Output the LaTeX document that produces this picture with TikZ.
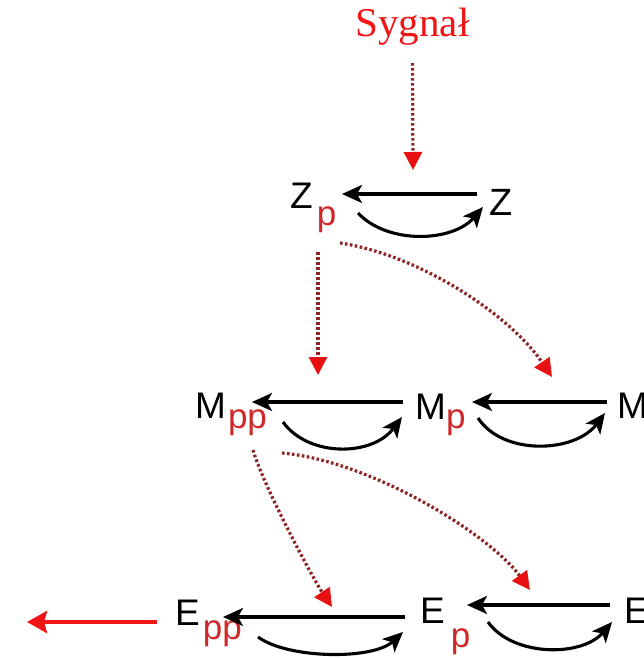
\documentclass[tikz,border=0pt]{standalone}
\usepackage{fontspec}
\setmainfont{Liberation Sans}
\newfontfamily\sygfont{Liberation Serif}
\usetikzlibrary{arrows.meta,calc}
\definecolor{sigred}{HTML}{F01414}
\definecolor{subred}{HTML}{D02828}
\definecolor{dotred}{HTML}{8E2424}
\definecolor{tipred}{HTML}{E81010}
\newcommand{\spec}[4]{#1\kern#4pt\raisebox{-#3pt}{\fontsize{35}{35}\selectfont\color{subred}#2}}

\begin{document}
\begin{tikzpicture}[x=1pt, y=-1pt,
    sp/.style={anchor=base west, inner sep=0pt, font=\fontsize{37}{37}\selectfont},
    conv/.style={line width=3.1pt, -{Stealth[length=20pt,width=18pt,inset=5pt]}},
    sig/.style={dotred, line width=3.2pt, dash pattern=on 2.6pt off 2.4pt, -{Triangle[length=18pt,width=18pt,color=tipred]}},
    outarrow/.style={sigred, line width=4.5pt, -{Stealth[length=20pt,width=22pt,inset=3pt]}}
]
\clip (0,0) rectangle (644,658);
\node[font=\sygfont\fontsize{41}{41}\selectfont, text=sigred, anchor=base, inner sep=0pt] (sygnal) at (412.5,37) {Sygnał};
\node[sp] (zp) at (290,208) {\spec{Z}{p}{17.6}{4}};
\node[sp, font=\fontsize{38}{38}\selectfont] (z) at (489,215) {Z};
\node[sp] (mpp) at (195,418) {\spec{M}{pp}{10.6}{2}};
\node[sp] (mp) at (415,419) {\spec{M}{p}{9.6}{0}};
\node[sp] (m) at (617,418) {M};
\node[sp] (epp) at (175,625) {\spec{E}{pp}{14.6}{3}};
\node[sp] (ep) at (420,623) {\spec{E}{p}{24.6}{6}};
\node[sp] (e) at (624,623) {E};
\coordinate (tz) at (413,170);
\coordinate (tmpp) at (318,375);
\coordinate (tmp) at (552,377);
\coordinate (tepp) at (332,607);
\coordinate (tep) at (530,590);
\coordinate (out) at (27,622);

\draw[conv] ([shift={(-12,-21)}]z.base west) -- ([shift={(52,-14)}]zp.base west);
\draw[conv] ([shift={(68,5)}]zp.base west) .. controls +(30,32) and +(-30,35) .. ([shift={(-6,-8)}]z.base west);
\draw[conv] ([shift={(-12,-17)}]mp.base west) -- ([shift={(57,-16)}]mpp.base west);
\draw[conv] ([shift={(88,4)}]mpp.base west) .. controls +(25,35) and +(-30,40) .. ([shift={(-13,-2)}]mp.base west);
\draw[conv] ([shift={(-10,-16)}]m.base west) -- ([shift={(57,-17)}]mp.base west);
\draw[conv] ([shift={(63,-1)}]mp.base west) .. controls +(25,38) and +(-30,40) .. ([shift={(-12,-5)}]m.base west);
\draw[conv] ([shift={(-15,-6)}]ep.base west) -- ([shift={(48,-8)}]epp.base west);
\draw[conv] ([shift={(83,12)}]epp.base west) .. controls +(30,22) and +(-30,28) .. ([shift={(-17,9)}]ep.base west);
\draw[conv] ([shift={(-14,-18)}]e.base west) -- ([shift={(47,-18)}]ep.base west);
\draw[conv] ([shift={(68,-1)}]ep.base west) .. controls +(25,35) and +(-30,35) .. ([shift={(-12,-1)}]e.base west);
\draw[outarrow] ([shift={(-18,-3)}]epp.base west) -- (out);

\draw[sig] ([shift={(0,17)}]sygnal.south) -- (tz);
\draw[sig] ([shift={(28,44)}]zp.base west) -- (tmpp);
\draw[sig] ([shift={(50,35)}]zp.base west) .. controls +(80,12) and +(-42,-62) .. (tmp);
\draw[sig] ([shift={(58,32)}]mpp.base west) .. controls +(10,35) and +(-20,-30) .. (tepp);
\draw[sig] ([shift={(87,35)}]mpp.base west) .. controls +(90,8) and +(-40,-55) .. (tep);
\end{tikzpicture}
\end{document}
